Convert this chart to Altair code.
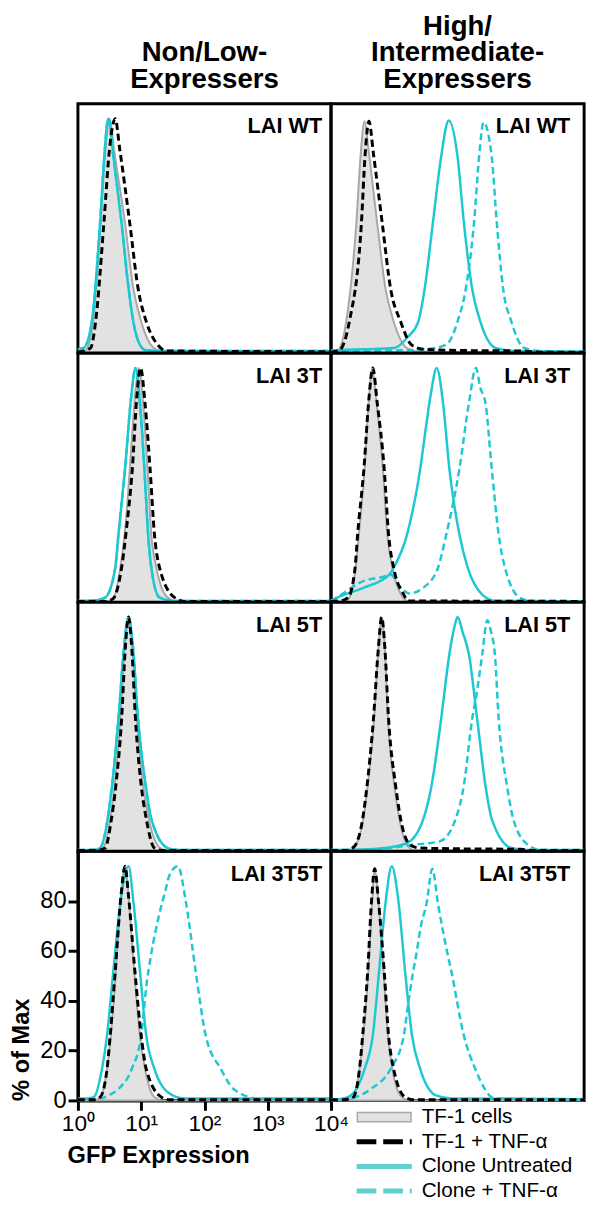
import altair as alt
import pandas as pd

FONT = "Liberation Sans"
CYAN = "#1ec8d2"
LEGEND_CYAN = "#5ed0d0"
GRAY_FILL = "#e2e2e2"
GRAY_LINE = "#a8a8a8"

COLUMN_TITLES = [["Non/Low-", "Expressers"], ["High/", "Intermediate-", "Expressers"]]
PANEL_LABELS = ["LAI WT", "LAI 3T", "LAI 5T", "LAI 3T5T"]
SERIES = ["TF-1 cells", "TF-1 + TNF-α", "Clone Untreated", "Clone + TNF-α"]
X_TICKS = [1, 10, 100, 1000, 10000]
X_TICK_LABELS = ["10⁰", "10¹", "10²", "10³", "10⁴"]
Y_TICKS = [0, 20, 40, 60, 80]

# Curves: (log10 of GFP expression, % of Max)
# ---- LAI WT, Non/Low ----
WT_LOW_TF1 = [(0.0, 0), (0.12, 1), (0.24, 12.6), (0.36, 52), (0.43, 80), (0.5, 94), (0.58, 80), (0.745, 52), (0.875, 26), (1.0, 12.6), (1.2, 2), (1.4, 0.3), (4.0, 0.3)]
WT_LOW_TF1_TNF = [(0.0, 0.3), (0.2, 2), (0.28, 12.6), (0.41, 52), (0.5, 82), (0.59, 94), (0.66, 82), (0.82, 52), (0.95, 26), (1.08, 12.6), (1.27, 3), (1.4, 0.8), (4.0, 0.5)]
WT_LOW_CLONE = [(0.0, 1.5), (0.09, 2), (0.22, 12.6), (0.35, 52), (0.42, 80), (0.48, 94), (0.56, 79), (0.69, 52), (0.8, 26), (0.875, 12.6), (0.95, 5), (1.06, 1.2), (1.3, 0.8), (4.0, 0.8)]
WT_LOW_CLONE_TNF = [(0.0, 1.5), (0.09, 2), (0.22, 12.6), (0.35, 52), (0.42, 80), (0.48, 94), (0.56, 79), (0.69, 52), (0.8, 26), (0.875, 12.6), (0.95, 5), (1.06, 1.2), (1.3, 0.8), (4.0, 0.8)]
# ---- LAI WT, High/Intermediate ----
WT_HIGH_TF1 = [(0.0, 0), (0.11, 1), (0.24, 12.6), (0.40, 52), (0.47, 80), (0.53, 93), (0.6, 80), (0.73, 52), (0.86, 26), (0.99, 12.6), (1.2, 2), (1.4, 0.5), (4.0, 0.3)]
WT_HIGH_TF1_TNF = [(0.0, 0.3), (0.13, 1), (0.29, 12.6), (0.48, 52), (0.54, 80), (0.60, 93), (0.67, 80), (0.81, 52), (0.94, 26), (1.1, 12.6), (1.27, 3.3), (1.45, 1.5), (2.0, 1), (3.0, 0.8), (3.3, 0.3), (4.0, 0.3)]
WT_HIGH_CLONE = [(0.0, 1), (0.5, 1.5), (1.0, 2), (1.22, 6.6), (1.38, 12.6), (1.48, 25.8), (1.61, 52.2), (1.74, 78.7), (1.86, 93.3), (2.0, 78.7), (2.10, 52.2), (2.23, 25.8), (2.36, 12.6), (2.6, 2), (2.9, 0.8), (4.0, 0.5)]
WT_HIGH_CLONE_TNF = [(0.0, 0.8), (1.0, 1), (1.5, 1.5), (1.82, 3.3), (2.0, 12.6), (2.13, 25.8), (2.26, 52.2), (2.34, 78.7), (2.41, 92.6), (2.54, 78.7), (2.62, 52.2), (2.72, 25.8), (2.85, 12.6), (3.05, 2), (3.3, 0.8), (4.0, 0.5)]
# ---- LAI 3T, Non/Low ----
T3_LOW_TF1 = [(0.0, 0), (0.45, 0), (0.56, 1.5), (0.67, 13.8), (0.75, 30), (0.82, 53.6), (0.9, 82), (0.96, 94), (1.03, 80), (1.10, 53.6), (1.16, 27), (1.24, 13.8), (1.42, 1.8), (1.6, 0), (4.0, 0)]
T3_LOW_TF1_TNF = [(0.0, 0.3), (0.45, 0.3), (0.56, 1.5), (0.69, 13.8), (0.77, 30), (0.86, 53.6), (0.93, 82), (0.99, 94), (1.06, 80), (1.14, 53.6), (1.21, 27), (1.29, 13.8), (1.53, 1.8), (1.7, 0.3), (4.0, 0.3)]
T3_LOW_CLONE = [(0.0, 0.5), (0.3, 0.8), (0.43, 1.8), (0.59, 13.8), (0.64, 27), (0.745, 53.6), (0.84, 82), (0.91, 94), (0.98, 80), (1.05, 53.6), (1.11, 27), (1.16, 13.8), (1.29, 1.8), (1.5, 0.5), (4.0, 0.5)]
T3_LOW_CLONE_TNF = [(0.0, 0.5), (0.3, 0.8), (0.43, 1.8), (0.59, 13.8), (0.64, 27), (0.745, 53.6), (0.84, 82), (0.91, 94), (0.98, 80), (1.05, 53.6), (1.11, 27), (1.16, 13.8), (1.29, 1.8), (1.5, 0.5), (4.0, 0.5)]
# ---- LAI 3T, High/Intermediate ----
T3_HIGH_TF1 = [(0.0, 0), (0.2, 0), (0.29, 1.8), (0.39, 13.8), (0.44, 27), (0.53, 53.6), (0.6, 82), (0.65, 94), (0.72, 80), (0.82, 53.6), (0.89, 27), (0.97, 13.8), (1.12, 2.5), (1.25, 0), (4.0, 0)]
T3_HIGH_TF1_TNF = [(0.0, 0.3), (0.15, 0.5), (0.27, 1.8), (0.38, 13.8), (0.42, 27), (0.52, 53.6), (0.6, 82), (0.66, 94), (0.73, 80), (0.84, 53.6), (0.91, 27), (0.99, 13.8), (1.15, 3), (1.22, 0.5), (4.0, 0.3)]
T3_HIGH_CLONE = [(0.0, 0.5), (0.1, 1.8), (0.52, 5.8), (0.92, 11), (0.99, 13.8), (1.20, 27), (1.41, 53.6), (1.51, 72), (1.58, 84), (1.67, 94), (1.77, 80), (1.87, 53.6), (2.03, 27), (2.16, 13.8), (2.39, 3), (2.6, 0.5), (4.0, 0.3)]
T3_HIGH_CLONE_TNF = [(0.0, 0.5), (0.1, 2), (0.52, 8.5), (0.8, 10), (0.94, 11), (1.1, 6), (1.24, 3.5), (1.46, 5.8), (1.69, 13.8), (1.82, 27), (2.03, 53.6), (2.18, 80), (2.29, 94), (2.36, 86), (2.44, 80), (2.54, 53.6), (2.65, 27), (2.75, 13.8), (3.0, 1.5), (3.2, 0.5), (4.0, 0.3)]
# ---- LAI 5T, Non/Low ----
T5_LOW_TF1 = [(0.0, 0), (0.3, 0), (0.40, 1.3), (0.51, 13), (0.58, 26.5), (0.67, 53), (0.74, 82), (0.80, 94), (0.86, 82), (0.93, 53), (1.03, 26.5), (1.12, 13), (1.3, 1.3), (1.45, 0), (4.0, 0)]
T5_LOW_TF1_TNF = [(0.0, 0.3), (0.3, 0.3), (0.43, 1.3), (0.53, 13), (0.6, 26.5), (0.69, 53), (0.75, 82), (0.80, 94), (0.85, 82), (0.91, 53), (1.0, 26.5), (1.08, 13), (1.21, 1.3), (1.35, 0.3), (4.0, 0.3)]
T5_LOW_CLONE = [(0.0, 0.5), (0.25, 0.6), (0.35, 1.3), (0.47, 13), (0.54, 26.5), (0.64, 53), (0.73, 82), (0.80, 94), (0.87, 82), (0.95, 53), (1.07, 26.5), (1.16, 13), (1.42, 1.3), (1.6, 0.5), (4.0, 0.5)]
T5_LOW_CLONE_TNF = [(0.0, 0.5), (0.25, 0.6), (0.35, 1.3), (0.47, 13), (0.54, 26.5), (0.64, 53), (0.73, 82), (0.80, 94), (0.87, 82), (0.95, 53), (1.07, 26.5), (1.16, 13), (1.42, 1.3), (1.6, 0.5), (4.0, 0.5)]
# ---- LAI 5T, High/Intermediate ----
T5_HIGH_TF1 = [(0.0, 0), (0.28, 0), (0.38, 2), (0.51, 13), (0.58, 26.5), (0.68, 53), (0.75, 82), (0.80, 94), (0.85, 82), (0.90, 53), (1.0, 26.5), (1.08, 13), (1.22, 2), (1.35, 0), (4.0, 0)]
T5_HIGH_TF1_TNF = [(0.0, 0.3), (0.25, 0.3), (0.37, 2), (0.50, 13), (0.57, 26.5), (0.67, 53), (0.75, 82), (0.80, 94), (0.85, 82), (0.91, 53), (1.02, 26.5), (1.10, 13), (1.25, 2.6), (1.4, 1.3), (2.0, 1), (3.0, 0.8), (3.2, 0.3), (4.0, 0.3)]
T5_HIGH_CLONE = [(0.0, 0.5), (0.6, 0.8), (0.84, 1.3), (1.2, 3.3), (1.46, 13), (1.59, 26.5), (1.74, 53), (1.87, 79), (1.95, 90), (2.0, 94), (2.08, 88), (2.18, 79), (2.31, 53), (2.44, 26.5), (2.54, 13), (2.85, 1.3), (3.1, 0.5), (4.0, 0.5)]
T5_HIGH_CLONE_TNF = [(0.0, 0.5), (0.6, 0.6), (0.93, 1.3), (1.30, 2.6), (1.72, 4), (1.97, 13), (2.10, 26.5), (2.23, 53), (2.3, 63), (2.39, 79), (2.47, 92.7), (2.53, 88), (2.59, 79), (2.65, 53), (2.78, 26.5), (2.88, 13), (3.11, 2.6), (3.3, 0.6), (4.0, 0.5)]
# ---- LAI 3T5T, Non/Low ----
T35_LOW_TF1 = [(0.0, 0), (0.25, 0), (0.35, 1.3), (0.46, 12.6), (0.52, 26), (0.6, 52), (0.68, 82), (0.745, 94), (0.8, 82), (0.89, 52), (0.98, 26), (1.06, 12.6), (1.21, 1.3), (1.35, 0), (4.0, 0)]
T35_LOW_TF1_TNF = [(0.0, 0.3), (0.25, 0.3), (0.35, 1.3), (0.46, 12.6), (0.51, 26), (0.59, 52), (0.68, 82), (0.745, 94), (0.8, 82), (0.90, 52), (1.0, 26), (1.08, 12.6), (1.32, 1.3), (1.45, 0.3), (4.0, 0.3)]
T35_LOW_CLONE = [(0.0, 0.8), (0.15, 0.8), (0.25, 1.3), (0.38, 12.6), (0.46, 26), (0.56, 52), (0.67, 79), (0.80, 94), (0.88, 79), (0.98, 52), (1.08, 26), (1.21, 12.6), (1.42, 3.3), (1.68, 0.8), (4.0, 0.8)]
T35_LOW_CLONE_TNF = [(0.0, 0.3), (0.3, 0.5), (0.48, 2), (0.64, 4.6), (0.85, 12.6), (1.0, 26), (1.08, 45.6), (1.16, 59), (1.27, 73), (1.38, 84), (1.45, 90.6), (1.58, 94), (1.71, 79), (1.86, 52), (2.02, 26), (2.26, 12.6), (2.46, 4.6), (2.83, 0.8), (3.2, 0.5), (4.0, 0.5)]
# ---- LAI 3T5T, High/Intermediate ----
T35_HIGH_TF1 = [(0.0, 0), (0.22, 0), (0.35, 1.3), (0.45, 12.6), (0.51, 26), (0.59, 52), (0.65, 80), (0.69, 93), (0.75, 80), (0.83, 52), (0.9, 26), (0.97, 12.6), (1.12, 1.3), (1.25, 0), (4.0, 0)]
T35_HIGH_TF1_TNF = [(0.0, 0.3), (0.2, 0.3), (0.35, 1.3), (0.45, 12.6), (0.50, 26), (0.58, 52), (0.64, 80), (0.69, 93), (0.75, 80), (0.84, 52), (0.91, 26), (0.99, 12.6), (1.17, 1.3), (1.3, 0.3), (4.0, 0.3)]
T35_HIGH_CLONE = [(0.0, 0.5), (0.15, 0.6), (0.27, 1.3), (0.53, 12.6), (0.66, 26), (0.76, 52), (0.86, 79), (0.96, 94), (1.07, 79), (1.17, 52), (1.28, 26), (1.41, 12.6), (1.66, 2), (1.9, 0.8), (4.0, 0.5)]
T35_HIGH_CLONE_TNF = [(0.0, 0.3), (0.2, 0.5), (0.32, 0.8), (0.63, 4.6), (0.94, 12.6), (1.15, 26), (1.22, 39), (1.30, 52), (1.35, 59), (1.42, 70), (1.51, 79), (1.60, 93), (1.69, 79), (1.84, 59), (1.90, 52), (2.10, 26), (2.28, 12.6), (2.59, 0.8), (4.0, 0.5)]

PANELS = [
    [(WT_LOW_TF1, WT_LOW_TF1_TNF, WT_LOW_CLONE, WT_LOW_CLONE_TNF),
     (WT_HIGH_TF1, WT_HIGH_TF1_TNF, WT_HIGH_CLONE, WT_HIGH_CLONE_TNF)],
    [(T3_LOW_TF1, T3_LOW_TF1_TNF, T3_LOW_CLONE, T3_LOW_CLONE_TNF),
     (T3_HIGH_TF1, T3_HIGH_TF1_TNF, T3_HIGH_CLONE, T3_HIGH_CLONE_TNF)],
    [(T5_LOW_TF1, T5_LOW_TF1_TNF, T5_LOW_CLONE, T5_LOW_CLONE_TNF),
     (T5_HIGH_TF1, T5_HIGH_TF1_TNF, T5_HIGH_CLONE, T5_HIGH_CLONE_TNF)],
    [(T35_LOW_TF1, T35_LOW_TF1_TNF, T35_LOW_CLONE, T35_LOW_CLONE_TNF),
     (T35_HIGH_TF1, T35_HIGH_TF1_TNF, T35_HIGH_CLONE, T35_HIGH_CLONE_TNF)],
]

W = 257
H = 253
TITLE_LINE = 27
TITLE_SIZE = 28


def curve_df(points):
    return pd.DataFrame({"gfp": [10 ** p[0] for p in points], "pct": [p[1] for p in points]})


label_expr = " : ".join(
    f"datum.value == {v} ? '{t}'" for v, t in zip(X_TICKS, X_TICK_LABELS)
) + " : ''"


def make_panel(curves, row, col):
    with_axes = (row == 3 and col == 0)
    if with_axes:
        xax = alt.Axis(values=X_TICKS, labelExpr=label_expr, title="GFP Expression",
                       grid=False, domainColor="black", domainWidth=3,
                       tickColor="black", tickWidth=3, tickSize=10,
                       labelFont=FONT, labelFontSize=23, labelColor="black",
                       labelPadding=3, labelFlush=False, labelOverlap=False,
                       titleFont=FONT, titleFontSize=24, titleFontWeight="bold",
                       titleColor="black", titleAlign="left", titleBaseline="alphabetic",
                       titleX=-11, titleY=63)
        yax = alt.Axis(values=Y_TICKS, title="% of Max", grid=False,
                       domainColor="black", domainWidth=3,
                       tickColor="black", tickWidth=3, tickSize=10,
                       labelFont=FONT, labelFontSize=24, labelColor="black",
                       labelPadding=2, labelFlush=False,
                       titleFont=FONT, titleFontSize=24, titleFontWeight="bold",
                       titleColor="black", titleAnchor="start", titleBaseline="alphabetic",
                       titleX=-50)
    else:
        xax = None
        yax = None
    xenc = alt.X("gfp:Q", scale=alt.Scale(type="log", domain=[1, 10000]), axis=xax)
    yenc = alt.Y("pct:Q", scale=alt.Scale(domain=[0, 100], nice=False, zero=True), axis=yax)

    tf1, tf1_tnf, clone, clone_tnf = curves
    area = alt.Chart(curve_df(tf1)).mark_area(
        interpolate="monotone", fill=GRAY_FILL, stroke=GRAY_LINE, strokeWidth=2
    ).encode(x=xenc, y=yenc)
    c_dash = alt.Chart(curve_df(clone_tnf)).mark_line(
        interpolate="monotone", color=CYAN, strokeWidth=2.5, strokeDash=[7, 4]
    ).encode(x=xenc, y=yenc)
    c_solid = alt.Chart(curve_df(clone)).mark_line(
        interpolate="monotone", color=CYAN, strokeWidth=2.5
    ).encode(x=xenc, y=yenc)
    b_dash = alt.Chart(curve_df(tf1_tnf)).mark_line(
        interpolate="monotone", color="black", strokeWidth=3, strokeDash=[7, 4]
    ).encode(x=xenc, y=yenc)
    text = alt.Chart(pd.DataFrame({"label": [PANEL_LABELS[row]]})).mark_text(
        align="right", baseline="alphabetic", fontSize=22, fontWeight="bold",
        font=FONT, color="black"
    ).encode(x=alt.value(W - (9 if col == 0 else 14)), y=alt.value(30), text="label:N")

    layers = [area, c_dash, c_solid, b_dash, text]

    if row == 0:
        lines = COLUMN_TITLES[col]
        title_df = pd.DataFrame({"t": ["\n".join(lines)]})
        top_y = -16 - (len(lines) - 1) * TITLE_LINE - round(0.79 * TITLE_SIZE)
        ttl = alt.Chart(title_df).mark_text(
            align="center", baseline="top", fontSize=TITLE_SIZE, fontWeight="bold",
            font=FONT, color="black", lineBreak="\n", lineHeight=TITLE_LINE
        ).encode(x=alt.value(W / 2), y=alt.value(top_y), text="t:N")
        layers.append(ttl)

    if row == 3 and col == 1:
        leg = pd.DataFrame({"label": SERIES, "idx": list(range(len(SERIES)))})
        lenc = alt.Y("idx:Q", scale=alt.Scale(domain=[0, 3], range=[H + 17, H + 92]), axis=None)
        base = alt.Chart(leg)
        g_out = base.transform_filter(alt.datum.idx == 0).mark_rule(
            color=GRAY_LINE, strokeWidth=11).encode(x=alt.value(26), x2=alt.value(82), y=lenc)
        g_in = base.transform_filter(alt.datum.idx == 0).mark_rule(
            color=GRAY_FILL, strokeWidth=8).encode(x=alt.value(27.5), x2=alt.value(80.5), y=lenc)
        l_black = base.transform_filter(alt.datum.idx == 1).mark_rule(
            color="black", strokeWidth=5, strokeDash=[20, 7]).encode(x=alt.value(26), x2=alt.value(82), y=lenc)
        l_solid = base.transform_filter(alt.datum.idx == 2).mark_rule(
            color=LEGEND_CYAN, strokeWidth=5).encode(x=alt.value(26), x2=alt.value(82), y=lenc)
        l_dash = base.transform_filter(alt.datum.idx == 3).mark_rule(
            color=LEGEND_CYAN, strokeWidth=5, strokeDash=[20, 7]).encode(x=alt.value(26), x2=alt.value(82), y=lenc)
        l_text = base.mark_text(align="left", baseline="middle", fontSize=21,
                                font=FONT, color="black").encode(
            x=alt.value(92), y=lenc, text="label:N")
        layers += [g_out, g_in, l_black, l_solid, l_dash, l_text]
        chart = alt.layer(*layers).resolve_scale(y="independent")
    else:
        chart = alt.layer(*layers)

    return chart.properties(width=W, height=H)


panels = []
for r in range(4):
    for c in range(2):
        panels.append(make_panel(PANELS[r][c], r, c))

chart = alt.concat(*panels, columns=2, spacing=0, bounds="flush").properties(
    padding={"left": 0, "top": -6, "right": 0, "bottom": 0}
).configure(font=FONT).configure_view(stroke="black", strokeWidth=3)

chart.save("out.html", embed_options={"renderer": "svg", "actions": False})
